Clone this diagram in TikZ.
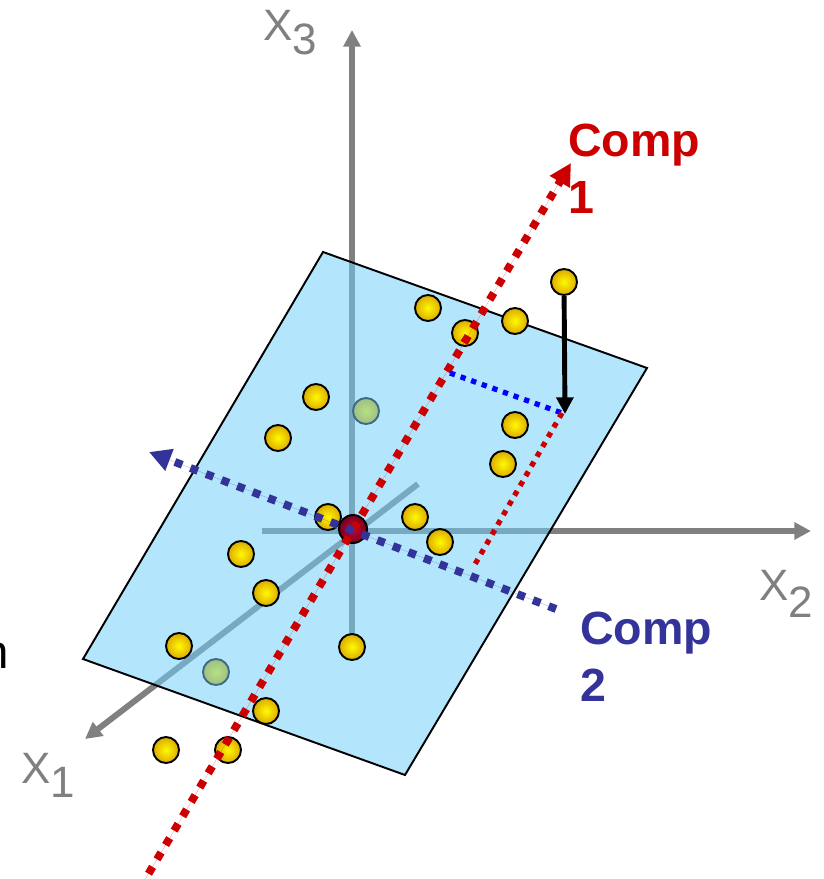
\documentclass[tikz,border=0pt]{standalone}
\usepackage{fontspec}
\setmainfont{Liberation Sans}
\usetikzlibrary{arrows.meta,positioning}
\definecolor{planeblue}{RGB}{111,206,249}
\definecolor{axisgray}{RGB}{128,128,128}
\definecolor{compred}{RGB}{204,0,0}
\definecolor{compnavy}{RGB}{51,51,153}
\definecolor{projblue}{RGB}{0,0,255}
\definecolor{ballyellow}{RGB}{255,250,0}
\definecolor{ballgold}{RGB}{220,170,0}
\definecolor{meanred}{RGB}{205,0,55}
\definecolor{meandark}{RGB}{115,0,30}

\begin{document}
\begin{tikzpicture}[
  x=0.02cm, y=-0.02cm,
  axis/.style={-{Triangle[length=9.5pt,width=9.5pt]}, line width=3.4pt, draw=axisgray},
  axislabel/.style={anchor=base west, inner sep=0pt, text=axisgray, font=\fontsize{25}{28}\selectfont},
  plane/.style={fill=planeblue, fill opacity=0.53},
  ball/.style={circle, draw=black, line width=1.1pt, inner sep=0pt, minimum size=0.52cm,
    shading=radial, inner color=ballyellow, outer color=ballgold},
  meanball/.style={ball, minimum size=0.56cm, inner color=meanred, outer color=meandark},
  comp/.style={-{Triangle[length=12.5pt,width=12.5pt]}, line width=4.5pt, dash pattern=on 4.5pt off 5pt},
  proj/.style={line width=3pt, dash pattern=on 3pt off 3.4pt},
  drop/.style={-{Triangle[length=9.5pt,width=9.5pt]}, line width=2.8pt, draw=black},
  complabel/.style={anchor=north west, inner sep=0pt, align=left,
    font=\fontsize{26.5}{32.3}\selectfont\bfseries}
]
\useasboundingbox (0,0) rectangle (823,879);

% axes
\coordinate (o3) at (352,646);
\coordinate (x3) at (352,30);
\coordinate (o2) at (262,531);
\coordinate (x2) at (811,531);
\coordinate (o1) at (418,484);
\coordinate (x1) at (85,739);
\draw[axis] (o3) -- (x3);
\draw[axis] (o2) -- (x2);
\draw[axis] (o1) -- (x1);

% points behind the plane
\node[ball] (b1) at (366,411) {};
\node[ball] (b2) at (216,672) {};

% plane
\coordinate (pt) at (323,252);
\coordinate (pr) at (647,368);
\coordinate (pb) at (405,775);
\coordinate (pl) at (83,659);
\fill[plane] (pt) -- (pr) -- (pb) -- (pl) -- cycle;
\draw[line width=1.1pt] (pt) -- (pr) -- (pb) -- (pl) -- cycle;

% data points
\foreach \px/\py [count=\i] in {428/308, 465/333, 515/321, 564/282, 316/397, 278/438,
  515/425, 503/464, 328/517, 415/517, 440/542, 241/554, 266/593, 352/647,
  179/646, 266/711, 166/750, 228/750}
  \node[ball] (d\i) at (\px,\py) {};
\node[meanball] (mean) at (353,529) {};

% components
\coordinate (c1a) at (140,888);
\coordinate (c1b) at (571,163);
\coordinate (c2a) at (556,609);
\coordinate (c2b) at (149,452);
\draw[comp, draw=compred, fill=compred] (c1a) -- (c1b);
\draw[comp, draw=compnavy, fill=compnavy] (c2a) -- (c2b);

% projection of one point
\coordinate (foot) at (562,413);
\coordinate (onc1) at (450,373);
\coordinate (onc2) at (474,566);
\draw[proj, draw=projblue] (onc1) -- (foot);
\draw[proj, draw=compred] (foot) -- (onc2);
\draw[drop] (d4) -- (565,414);

% labels
\node[axislabel] (lx3) at (263,40) {X\raisebox{-8pt}{3}};
\node[axislabel] (lx2) at (759,600) {X\raisebox{-10pt}{2}};
\node[axislabel] (lx1) at (21,783) {X\raisebox{-8.5pt}{1}};
\node[complabel, text=compred] (lc1) at (568,124) {Comp\\1};
\node[complabel, text=compnavy] (lc2) at (580,612) {Comp\\2};
\node[anchor=base east, inner sep=0pt, font=\fontsize{27}{30}\selectfont] (cut) at (9,668) {n};

\end{tikzpicture}
\end{document}
